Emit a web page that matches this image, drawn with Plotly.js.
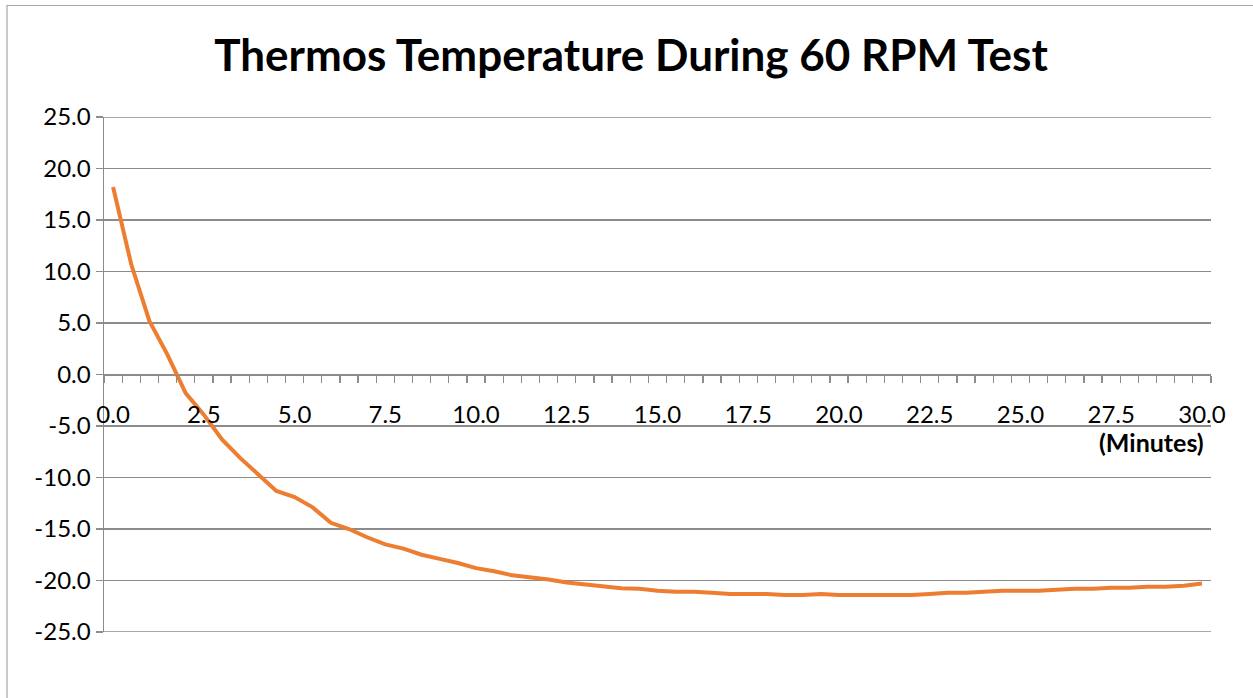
<!DOCTYPE html>
<html>
<head>
<meta charset="utf-8">
<script src="https://cdn.plot.ly/plotly-3.0.1.min.js"></script>
<style>html,body{margin:0;padding:0;background:#fff;}#chart{width:1253px;height:698px;}</style>
</head>
<body>
<div id="chart"></div>
<script>
// Time in minutes (every 0.5 min)
const minutes = [];
for (let i = 0; i <= 60; i++) minutes.push(i * 0.5);

// Temperature readings
const temperature = [
  18.2, 10.7, 5.2, 1.9, -1.8, -3.9, -6.3, -8.1, -9.7, -11.3,
  -11.9, -12.9, -14.4, -15.0, -15.8, -16.5, -16.9, -17.5, -17.9, -18.3,
  -18.8, -19.1, -19.5, -19.7, -19.9, -20.2, -20.4, -20.55, -20.75, -20.8,
  -21.0, -21.1, -21.1, -21.2, -21.3, -21.3, -21.3, -21.4, -21.4, -21.3,
  -21.4, -21.4, -21.4, -21.4, -21.4, -21.3, -21.2, -21.2, -21.1, -21.0,
  -21.0, -21.0, -20.9, -20.8, -20.8, -20.7, -20.7, -20.6, -20.6, -20.5,
  -20.3
];

// Axis ticks
const yTicks = [-25, -20, -15, -10, -5, 0, 5, 10, 15, 20, 25];
const yTickLabels = yTicks.map(v => v.toFixed(1));
const xTicks = [0, 2.5, 5, 7.5, 10, 12.5, 15, 17.5, 20, 22.5, 25, 27.5, 30];
const xTickLabels = xTicks.map(v => v.toFixed(1));

const titleText = 'Thermos Temperature During 60 RPM Test';
const xAxisLabel = '(Minutes)';

const font = 'Lato, "Liberation Sans", sans-serif';
const gridGray = '#8c8c8c';

const trace = {
  x: minutes,
  y: temperature,
  type: 'scatter',
  mode: 'lines',
  line: {color: '#ED7D31', width: 4},
  hoverinfo: 'x+y'
};

const L = 104, R = 1211, T = 117, B = 632;
const W = R - L, H = B - T;

const edgeGrid = [yTicks[0], yTicks[yTicks.length - 1]].map(v => ({
  type: 'line', xref: 'paper', yref: 'y', x0: 0, x1: 1, y0: v, y1: v,
  line: {color: gridGray, width: 1.3}, layer: 'below'
}));

const layout = {
  width: 1253, height: 698,
  margin: {l: L, r: 1253 - R, t: T, b: 698 - B, pad: 0},
  paper_bgcolor: '#ffffff',
  plot_bgcolor: '#ffffff',
  showlegend: false,
  font: {family: font, color: '#000', size: 24},
  title: {
    text: '<b>' + titleText + '</b>',
    font: {family: font, size: 44, color: '#000'},
    x: 631 / 1253, xref: 'container', xanchor: 'center',
    y: 1 - 56 / 698, yref: 'container', yanchor: 'middle'
  },
  xaxis: {
    range: [-0.25, 30.25],
    anchor: 'free', position: 0.5,
    tickmode: 'array', tickvals: xTicks, ticktext: xTickLabels,
    ticks: 'outside', ticklen: 18, tickcolor: 'rgba(0,0,0,0)',
    minor: {tick0: -0.25, dtick: 0.5, ticks: 'outside', ticklen: 7, tickcolor: gridGray, tickwidth: 1.3, showgrid: false},
    showline: true, linecolor: gridGray, linewidth: 1.5,
    showgrid: false, zeroline: false,
    tickfont: {family: font, size: 24, color: '#000'},
    fixedrange: true
  },
  yaxis: {
    range: [-25, 25],
    tickmode: 'array', tickvals: yTicks, ticktext: yTickLabels,
    ticks: 'outside', ticklen: 7, tickcolor: gridGray, tickwidth: 1.3,
    showline: true, linecolor: gridGray, linewidth: 1.5,
    showgrid: true, gridcolor: gridGray, gridwidth: 1.3,
    zeroline: false,
    tickfont: {family: font, size: 24, color: '#000'},
    fixedrange: true
  },
  annotations: [{
    text: '<b>' + xAxisLabel + '</b>',
    xref: 'x', yref: 'y', x: 30.25, y: -6.6,
    xanchor: 'right', yanchor: 'middle', xshift: -5,
    showarrow: false,
    font: {family: font, size: 25, color: '#000'}
  }],
  shapes: [{
    type: 'rect', xref: 'paper', yref: 'paper',
    x0: (7 - L) / W, x1: (1265 - L) / W,
    y0: (B - 710) / H, y1: (B - 5.5) / H,
    line: {color: '#a6a6a6', width: 1.2},
    fillcolor: 'rgba(0,0,0,0)', layer: 'below'
  }].concat(edgeGrid)
};

Plotly.newPlot('chart', [trace], layout, {displayModeBar: false, staticPlot: true});
</script>
</body>
</html>
